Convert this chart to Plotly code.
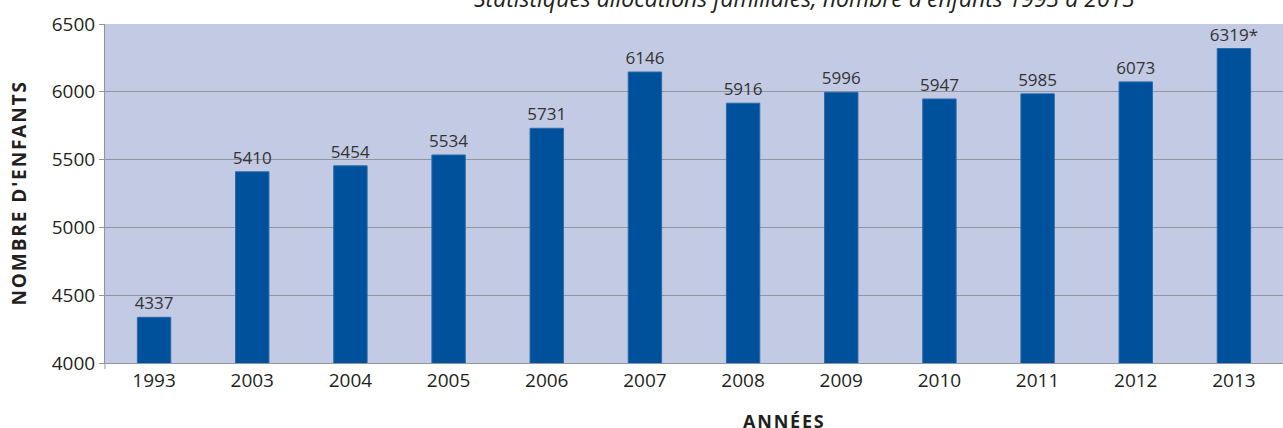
import plotly.graph_objects as go

years = ["1993", "2003", "2004", "2005", "2006", "2007", "2008", "2009", "2010", "2011", "2012", "2013"]
enfants = [4337, 5410, 5454, 5534, 5731, 6146, 5916, 5996, 5947, 5985, 6073, 6319]
label_texts = ["4337", "5410", "5454", "5534", "5731", "6146", "5916", "5996", "5947", "5985", "6073", "6319*"]
y_ticks = [4000, 4500, 5000, 5500, 6000, 6500]

title_text = "Statistiques allocations familiales, nombre d'enfants 1993 à 2013"
y_title = "NOMBRE D'ENFANTS"
x_title = "ANNÉES"

def spaced(s):
    return "\u200a".join(list(s))

W, H = 1283, 428
ml, mr, mt, mb = 105, 0, 24, 65

fig = go.Figure()
fig.add_trace(go.Bar(
    x=years, y=enfants, text=label_texts, textposition="outside",
    constraintext="none",
    textfont=dict(family="Open Sans", size=17, color="#333333"),
    marker=dict(color="#00519b", line=dict(color="#2a6aa8", width=1)),
    width=0.34, cliponaxis=False, hoverinfo="skip",
))

fig.update_layout(
    width=W, height=H,
    margin=dict(l=ml, r=mr, t=mt, b=mb),
    paper_bgcolor="white", plot_bgcolor="#c3cae4",
    showlegend=False,
    font=dict(family="Open Sans", size=18, color="#231f20"),
)
fig.update_yaxes(
    range=[4000, 6500], tickvals=y_ticks, ticktext=[str(v) for v in y_ticks],
    showgrid=True, gridcolor="#8f969e", gridwidth=1,
    showline=True, linecolor="#8f969e", linewidth=1,
    ticks="outside", ticklen=5, tickcolor="#8f969e",
    tickfont=dict(family="Open Sans", size=19, color="#231f20"),
    zeroline=False,
)
fig.update_xaxes(
    showline=True, linecolor="#8f969e", linewidth=1,
    ticks="", tickfont=dict(family="Open Sans", size=19, color="#231f20"),
    showgrid=False,
)

ph = H - mt - mb
pw = W - ml - mr
fig.add_annotation(
    text="<i>" + title_text + "</i>", xref="paper", yref="paper",
    x=(804 - ml) / pw, y=1 + 26 / ph, xanchor="center", yanchor="middle",
    showarrow=False, font=dict(family="Open Sans", size=23, color="#231f20"),
)
fig.add_annotation(
    text="<b>" + spaced(y_title) + "</b>", xref="paper", yref="paper",
    x=-(ml - 18) / pw, y=0.5, xanchor="center", yanchor="middle",
    textangle=-90, showarrow=False,
    font=dict(family="Open Sans", size=19, color="#231f20"),
)
fig.add_annotation(
    text="<b>" + spaced(x_title) + "</b>", xref="paper", yref="paper",
    x=(783 - ml) / pw, y=-(421 - mt - ph) / ph, xanchor="center", yanchor="middle",
    showarrow=False, font=dict(family="Open Sans", size=18, color="#231f20"),
)
fig.add_shape(type="line", xref="paper", yref="paper", x0=0, x1=0, y0=0, y1=-6 / ph,
              line=dict(color="#8f969e", width=1))

fig.write_html("out.html", config={"displayModeBar": False, "staticPlot": True})

with open("out.html", "r", encoding="utf-8") as f:
    html = f.read()
html = html.replace("<head>", "<head><style>html,body{margin:0;padding:0;overflow:hidden;}</style>", 1)
with open("out.html", "w", encoding="utf-8") as f:
    f.write(html)
